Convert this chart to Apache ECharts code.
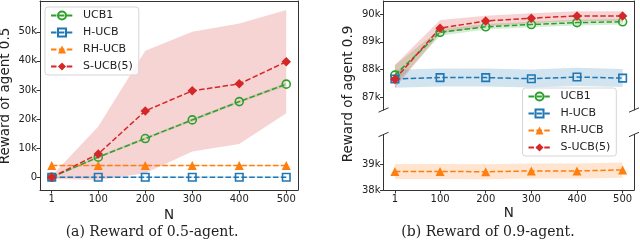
<!DOCTYPE html>
<html>
<head>
<meta charset="utf-8">
<script src="https://cdn.jsdelivr.net/npm/echarts@6/dist/echarts.min.js"></script>
<style>html,body{margin:0;padding:0;background:#fff}#c{width:640px;height:248px}</style>
</head>
<body>
<div id="c"></div>
<script>
// ---------- data ----------
const N = [1, 100, 200, 300, 400, 500];
const xTicks = [1, 100, 200, 300, 400, 500];
const names = ['UCB1', 'H-UCB', 'RH-UCB', 'S-UCB(5)'];

// (a) agent 0.5
const yTicksA = [0, 10000, 20000, 30000, 40000, 50000];
const ucb1A = [0, 6900, 13300, 19700, 26000, 32000];
const ucb1ALo = [-300, 6500, 12900, 19200, 25500, 31400];
const ucb1AHi = [300, 7300, 13700, 20200, 26500, 32600];
const hucbA = [0, 0, 0, 0, 0, 0];
const hucbALo = [-200, -200, -200, -200, -200, -200];
const hucbAHi = [200, 200, 200, 200, 200, 200];
const rhucbA = [4000, 4000, 4000, 4000, 4000, 4000];
const rhucbALo = [3800, 3800, 3800, 3800, 3800, 3800];
const rhucbAHi = [4200, 4200, 4200, 4200, 4200, 4200];
const sucbA = [0, 8000, 22800, 29700, 32100, 39700];
const sucbALo = [-500, -1000, 1400, 8800, 11400, 22000];
const sucbAHi = [500, 17400, 43500, 50000, 52900, 57500];

// (b) agent 0.9
const yTicksBTop = [87000, 88000, 89000, 90000];
const yTicksBBot = [38000, 39000];
const ucb1B = [87800, 89340, 89540, 89620, 89690, 89720];
const ucb1BLo = [87450, 89220, 89440, 89520, 89590, 89620];
const ucb1BHi = [88150, 89460, 89640, 89720, 89790, 89820];
const hucbB = [87660, 87710, 87710, 87670, 87730, 87690];
const hucbBLo = [87340, 87390, 87390, 87350, 87410, 87370];
const hucbBHi = [87990, 88040, 88040, 88000, 88060, 88020];
const rhucbB = [38720, 38720, 38710, 38740, 38740, 38780];
const rhucbBLo = [38430, 38430, 38420, 38450, 38450, 38480];
const rhucbBHi = [39010, 39010, 39000, 39030, 39030, 39070];
const sucbB = [87650, 89490, 89750, 89850, 89930, 89930];
const sucbBLo = [87330, 89300, 89560, 89670, 89750, 89750];
const sucbBHi = [88160, 89780, 89940, 90030, 90100, 90100];

// ---------- styles ----------
const COL = {'UCB1': '#2ca02c', 'H-UCB': '#1f77b4', 'RH-UCB': '#ff7f0e', 'S-UCB(5)': '#d62728'};
const BAND = {'UCB1': 'rgba(44,160,44,0.2)', 'H-UCB': 'rgba(31,119,180,0.2)', 'RH-UCB': 'rgba(255,127,14,0.2)', 'S-UCB(5)': 'rgba(214,39,40,0.2)'};
const SYM = {
  'UCB1': {symbol: 'circle', size: 8, hollow: true},
  'H-UCB': {symbol: 'rect', size: 7.5, hollow: true},
  'RH-UCB': {symbol: 'triangle', size: 9, hollow: false},
  'S-UCB(5)': {symbol: 'diamond', size: 9.5, hollow: false}
};
const FONT = 'DejaVu Sans';
const AX = '#333';

function lineSeries(name, vals, xi, yi) {
  const s = SYM[name];
  return {
    type: 'line', name: name, xAxisIndex: xi, yAxisIndex: yi, z: 3,
    data: N.map((n, i) => [n, vals[i]]),
    symbol: s.symbol, symbolSize: s.size, showSymbol: true,
    lineStyle: {color: COL[name], width: 1.5, type: [5.5, 2.4]},
    itemStyle: s.hollow
      ? {color: 'rgba(255,255,255,0)', borderColor: COL[name], borderWidth: 1.6}
      : {color: COL[name], borderWidth: 0},
    emphasis: {disabled: true}, silent: true
  };
}
function bandSeries(name, lo, hi, xi, yi) {
  return {
    type: 'custom', xAxisIndex: xi, yAxisIndex: yi, z: 1, silent: true,
    data: N.map((n, i) => [n, lo[i], hi[i]]),
    encode: {x: 0, y: [1, 2]},
    renderItem: function (params, api) {
      if (params.dataIndex !== 0) return null;
      const pts = [];
      for (let i = 0; i < N.length; i++) pts.push(api.coord([N[i], hi[i]]));
      for (let i = N.length - 1; i >= 0; i--) pts.push(api.coord([N[i], lo[i]]));
      return {type: 'polygon', shape: {points: pts}, style: {fill: BAND[name], stroke: null}};
    }
  };
}
function kfmt(v) { return v === 0 ? '0' : (v / 1000) + 'k'; }

const lineOn = {show: true, onZero: false, lineStyle: {color: AX, width: 1}};
const xBase = {
  type: 'value', min: -23.95, max: 524.95,
  splitLine: {show: false},
  axisLine: lineOn,
  axisTick: {show: true, inside: false, length: 3.5, lineStyle: {color: AX, width: 1}, customValues: xTicks},
  axisLabel: {show: true, margin: 4, fontSize: 10, color: '#222', fontFamily: FONT, customValues: xTicks},
  name: 'N', nameLocation: 'middle', nameGap: 16,
  nameTextStyle: {fontSize: 13.5, color: '#222', fontFamily: FONT}
};
function yAxisOf(gi, min, max, ticks) {
  return {
    type: 'value', gridIndex: gi, min: min, max: max, position: 'left',
    splitLine: {show: false},
    axisLine: lineOn,
    axisTick: {show: true, inside: false, length: 3.5, lineStyle: {color: AX, width: 1}, customValues: ticks},
    axisLabel: {show: true, margin: 3, fontSize: 10, color: '#222', fontFamily: FONT, customValues: ticks, formatter: kfmt, hideOverlap: false}
  };
}
function sideOnly(gi, min, max) {
  return {
    type: 'value', gridIndex: gi, min: min, max: max, position: 'right',
    splitLine: {show: false},
    axisLine: lineOn,
    axisTick: {show: false}, axisLabel: {show: false}
  };
}

const GA = {left: 40, top: 1, width: 258, height: 189};
const GBT = {left: 383.5, top: 1, width: 250.5, height: 109};
const GBB = {left: 383.5, top: 134.5, width: 250.5, height: 55.5};
const YA = [-4400, 60600];
const YBT = [86543, 90468];
const YBB = [38000, 40156];

const series = [];
// bands
series.push(bandSeries('UCB1', ucb1ALo, ucb1AHi, 0, 0));
series.push(bandSeries('H-UCB', hucbALo, hucbAHi, 0, 0));
series.push(bandSeries('RH-UCB', rhucbALo, rhucbAHi, 0, 0));
series.push(bandSeries('S-UCB(5)', sucbALo, sucbAHi, 0, 0));
series.push(bandSeries('UCB1', ucb1BLo, ucb1BHi, 1, 1));
series.push(bandSeries('H-UCB', hucbBLo, hucbBHi, 1, 1));
series.push(bandSeries('S-UCB(5)', sucbBLo, sucbBHi, 1, 1));
series.push(bandSeries('RH-UCB', rhucbBLo, rhucbBHi, 2, 3));
// lines
series.push(lineSeries('UCB1', ucb1A, 0, 0));
series.push(lineSeries('H-UCB', hucbA, 0, 0));
series.push(lineSeries('RH-UCB', rhucbA, 0, 0));
series.push(lineSeries('S-UCB(5)', sucbA, 0, 0));
series.push(lineSeries('UCB1', ucb1B, 1, 1));
series.push(lineSeries('H-UCB', hucbB, 1, 1));
series.push(lineSeries('S-UCB(5)', sucbB, 1, 1));
series.push(lineSeries('RH-UCB', rhucbB, 2, 3));

function legendOf(left, top) {
  return {
    left: left, top: top, orient: 'vertical', selectedMode: false,
    data: names, itemWidth: 22, itemHeight: 10, itemGap: 6,
    padding: [3, 6, 3, 5],
    backgroundColor: 'rgba(255,255,255,0.8)', borderColor: '#d5d5d5', borderWidth: 1, borderRadius: 3,
    textStyle: {fontSize: 11, color: '#222', fontFamily: FONT, padding: [0, 0, 0, 5]},
    z: 10
  };
}

function brk(cx, cy) {
  return {type: 'line', z: 20, silent: true,
    shape: {x1: cx - 5, y1: cy + 2.2, x2: cx + 5, y2: cy - 2.2},
    style: {stroke: '#333', lineWidth: 1}};
}
function ytitle(text, x, y) {
  return {type: 'text', silent: true, x: x, y: y, rotation: Math.PI / 2,
    style: {text: text, font: '13.5px "DejaVu Sans"', fill: '#222', textAlign: 'center', textVerticalAlign: 'middle'}};
}

const option = {
  animation: false,
  textStyle: {fontFamily: FONT},
  grid: [
    Object.assign({show: false}, GA),
    Object.assign({show: false}, GBT),
    Object.assign({show: false}, GBB)
  ],
  xAxis: [
    Object.assign({}, xBase, {gridIndex: 0, position: 'bottom'}),
    Object.assign({}, xBase, {gridIndex: 0, position: 'top', name: '', axisTick: {show: false}, axisLabel: {show: false}}),
    {type: 'value', gridIndex: 1, min: -23.95, max: 524.95, position: 'top',
     splitLine: {show: false}, axisLine: lineOn,
     axisTick: {show: false}, axisLabel: {show: false}},
    Object.assign({}, xBase, {gridIndex: 2, position: 'bottom'})
  ],
  yAxis: [
    yAxisOf(0, YA[0], YA[1], yTicksA),
    sideOnly(0, YA[0], YA[1]),
    yAxisOf(1, YBT[0], YBT[1], yTicksBTop),
    sideOnly(1, YBT[0], YBT[1]),
    yAxisOf(2, YBB[0], YBB[1], yTicksBBot),
    sideOnly(2, YBB[0], YBB[1])
  ],
  legend: [legendOf(45, 7), legendOf(522.5, 88)],
  series: series.map(s => {
    // map right-plot axis indices onto the expanded axis lists
    return s;
  }),
  graphic: [
    brk(383.5, 110), brk(383.5, 134.5), brk(634, 110), brk(634, 134.5),
    ytitle('Reward of agent 0.5', 5.5, 96),
    ytitle('Reward of agent 0.9', 348.5, 94),
    {type: 'text', silent: true, x: 152, y: 232,
     style: {text: '(a) Reward of 0.5-agent.', font: '14px "DejaVu Serif"', fill: '#222', textAlign: 'center', textVerticalAlign: 'middle'}},
    {type: 'text', silent: true, x: 488, y: 232,
     style: {text: '(b) Reward of 0.9-agent.', font: '14px "DejaVu Serif"', fill: '#222', textAlign: 'center', textVerticalAlign: 'middle'}}
  ]
};
// axis index remap: x: grid0 ->0, upper ->2, lower ->3 ; y: grid0 ->0, upper ->2, lower ->4
const XMAP = {0: 0, 1: 2, 2: 3};
const YMAP = {0: 0, 1: 2, 3: 4};
option.series.forEach(s => { s.xAxisIndex = XMAP[s.xAxisIndex]; s.yAxisIndex = YMAP[s.yAxisIndex]; });
echarts.init(document.getElementById('c'), null, {renderer: 'canvas'}).setOption(option);
</script>
</body>
</html>
